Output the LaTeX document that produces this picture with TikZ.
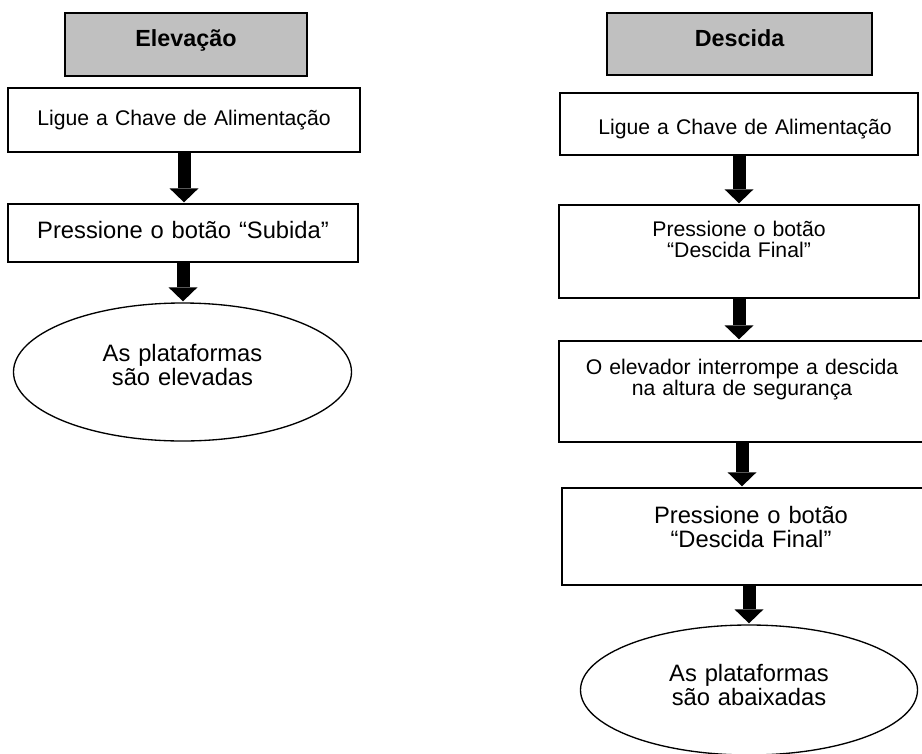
\documentclass[tikz,border=0pt]{standalone}
\usepackage{fontspec}
\setmainfont{Liberation Sans}
\usepackage{tikz}
\usetikzlibrary{arrows.meta}
\usetikzlibrary{shapes.geometric}
\definecolor{headgray}{RGB}{192,192,192}
\def\boxline{1pt}
\newcommand{\boxfont}{\fontsize{15.9pt}{15.75pt}\selectfont}
\newcommand{\bigfont}{\fontsize{17.8pt}{18.4pt}\selectfont}
\newcommand{\headfont}{\fontsize{17.5pt}{20pt}\selectfont\bfseries}
\tikzset{stepbox/.style={draw, line width=\boxline, rectangle, inner sep=0pt, align=center, font=\boxfont}}
\tikzset{headbox/.style={stepbox, fill=headgray, font=\headfont}}
\tikzset{endstate/.style={draw, line width=\boxline, ellipse, inner sep=0pt, align=center, font=\bigfont}}
\tikzset{bigarrow/.style={line width=9.75pt, -{Triangle[width=21.75pt,length=10.5pt,line width=0pt]}, shorten >=0.75pt}}

\begin{document}
\begin{tikzpicture}[x=0.75pt,y=-0.75pt] %% one unit = one pixel of the sheet

\useasboundingbox (0,0) rectangle (922,754);

%% Elevacao
\node[headbox, text width=181.5pt, text height=25.1pt, text depth=22.1pt] (lhead) at (186,44.5) {Elevação};
\node[stepbox, text width=264pt, text height=27.75pt, text depth=20.25pt] (l1) at (184,120) {Ligue a Chave de Alimentação};
\node[stepbox, font=\bigfont, text width=262.5pt, text height=25.5pt, text depth=18pt] (l2) at (183,233) {Pressione o botão “Subida”};
\node[endstate, text width=170pt, minimum width=253.5pt, minimum height=103.5pt, text height=14pt, text depth=30.5pt] (l3) at (182.5,372) {As plataformas\\são elevadas};
\draw[bigarrow] (l1.south) to (l1.south |- l2.north);
\draw[bigarrow] (l2.south) to (l2.south |- l3.north);

%% Descida
\node[headbox, text width=198.75pt, text height=24.75pt, text depth=21.75pt] (rhead) at (739.5,44) {Descida};
\node[stepbox, text width=268.5pt, text height=30.75pt, text depth=15.75pt] (r1) at (739,124) {\hspace*{9pt}Ligue a Chave de Alimentação};
\node[stepbox, text width=270pt, text height=23.8pt, text depth=46pt] (r2) at (739,251.5) {Pressione o botão\\“Descida Final”};
\node[stepbox, text width=274.5pt, text height=24.75pt, text depth=51pt] (r3) at (742,391.5) {O elevador interrompe a descida\\na altura de segurança};
\node[stepbox, font=\bigfont, text width=283.5pt, text height=26.5pt, text depth=46.3pt] (r4) at (751,536.5) {Pressione o botão\\“Descida Final”};
\node[endstate, text width=170pt, minimum width=252.75pt, minimum height=97.5pt, text height=14pt, text depth=27.5pt] (r5) at (749,690) {As plataformas\\são abaixadas};
\draw[bigarrow] (r1.south) to (r1.south |- r2.north);
\draw[bigarrow] (r2.south) to (r2.south |- r3.north);
\draw[bigarrow] (r3.south) to (r3.south |- r4.north);
\draw[bigarrow] (r4.south -| r5.north) to (r5.north);

\end{tikzpicture}
\end{document}
